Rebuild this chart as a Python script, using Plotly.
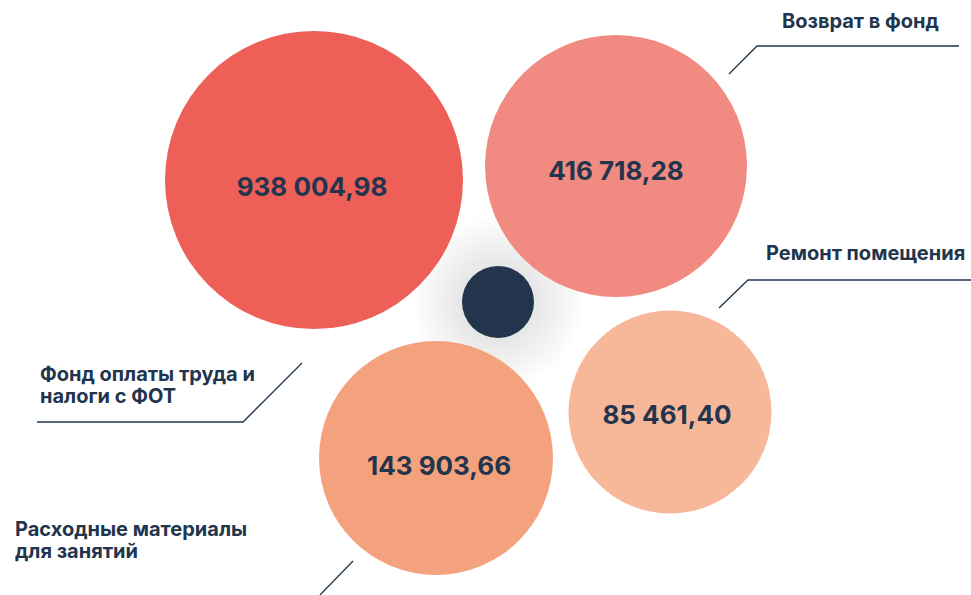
import plotly.graph_objects as go

# ---- data ----
categories = ["Фонд оплаты труда и<br>налоги с ФОТ", "Возврат в фонд",
              "Расходные материалы<br>для занятий", "Ремонт помещения"]
values = [938004.98, 416718.28, 143903.66, 85461.40]
colors = ["#EE5F57", "#F18A80", "#F4A27E", "#F7B89A"]

# ---- layout (pixel positions in a 971x595 canvas) ----
centers_x = [314, 616, 436, 670]
centers_y = [180, 166, 458, 412]
diameters = [298, 262, 234, 203]
value_text_x = [312, 616, 439, 667]
value_text_y = [189, 173, 468, 417]
label_pos = [(38, 374, "left"), (941, 21, "right"), (13, 529, "left"), (967, 253, "right")]
line_gap = 22
leaders = [
    [(37, 422), (243, 422), (302, 363)],
    [(729, 74), (757, 46), (959, 46)],
    [(320, 595), (353, 561)],
    [(719, 308), (748, 280), (975, 280)],
]
NAVY = "#22354D"

def fmt(v):
    return f"{v:,.2f}".replace(",", " ").replace(".", ",")

fig = go.Figure()

# soft shadow around central dot
for s in range(170, 72, -8):
    fig.add_trace(go.Scatter(x=[498], y=[302], mode="markers",
                             marker=dict(size=s, color="rgba(0,0,0,0.009)", line=dict(width=0)),
                             hoverinfo="skip", showlegend=False))

fig.add_trace(go.Scatter(
    x=centers_x, y=centers_y, mode="markers",
    marker=dict(size=diameters, color=colors, opacity=1, line=dict(width=0)),
    hovertext=[c.replace("<br>", " ") + ": " + fmt(v) for c, v in zip(categories, values)],
    hoverinfo="text", showlegend=False))

fig.add_trace(go.Scatter(
    x=value_text_x, y=value_text_y, mode="text",
    text=[fmt(v) for v in values], textposition="middle center",
    textfont=dict(family="Inter", size=26, color=NAVY, weight="bold"),
    hoverinfo="skip", showlegend=False))

fig.add_trace(go.Scatter(x=[498], y=[302], mode="markers",
                         marker=dict(size=72, color=NAVY, line=dict(width=0)),
                         hoverinfo="skip", showlegend=False))

for pts in leaders:
    fig.add_trace(go.Scatter(x=[p[0] for p in pts], y=[p[1] for p in pts], mode="lines",
                             line=dict(color=NAVY, width=1.3), hoverinfo="skip", showlegend=False))

for cat, (lx, ly, anchor) in zip(categories, label_pos):
    for i, line in enumerate(cat.split("<br>")):
        fig.add_annotation(x=lx, y=ly + i * line_gap, xref="x", yref="y", text=line,
                           showarrow=False, xanchor=anchor, yanchor="middle",
                           font=dict(family="Inter", size=20, color=NAVY, weight="bold"))

fig.update_layout(
    width=971, height=595, margin=dict(l=0, r=0, t=0, b=0),
    paper_bgcolor="white", plot_bgcolor="white",
    xaxis=dict(range=[0, 971], visible=False, fixedrange=True),
    yaxis=dict(range=[595, 0], visible=False, fixedrange=True),
)
html = fig.to_html(include_plotlyjs=True, full_html=True, config={"displayModeBar": False})
html = html.replace("<head>", "<head><style>html,body{margin:0;padding:0;overflow:hidden}</style>", 1)
with open("out.html", "w", encoding="utf-8") as f:
    f.write(html)
